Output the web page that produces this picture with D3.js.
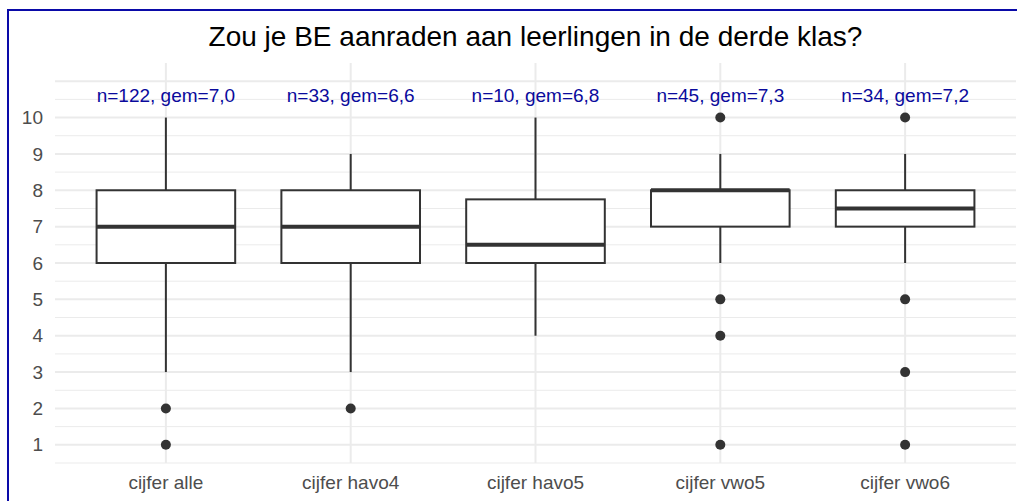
<!DOCTYPE html>
<html>
<head>
<meta charset="utf-8">
<script src="https://cdn.jsdelivr.net/npm/d3@7"></script>
<style>
  body { margin: 0; background: #fff; }
  svg { display: block; font-family: "Liberation Sans", Arial, sans-serif; }
</style>
</head>
<body>
<div id="chart"></div>
<script>
var categories = ["cijfer alle", "cijfer havo4", "cijfer havo5", "cijfer vwo5", "cijfer vwo6"];
var lowWhisker = [3, 3, 4, 6, 6];
var q1 = [6, 6, 6, 7, 7];
var median = [7, 7, 6.5, 8, 7.5];
var q3 = [8, 8, 7.75, 8, 8];
var highWhisker = [10, 9, 10, 9, 9];
var outliers = [[2, 1], [2], [], [10, 5, 4, 1], [10, 5, 3, 1]];
var counts = [122, 33, 10, 45, 34];
var means = ["7,0", "6,6", "6,8", "7,3", "7,2"];
var yTicks = [1, 2, 3, 4, 5, 6, 7, 8, 9, 10];

var width = 1017,
    height = 501,
    margin = { top: 63, right: 1, bottom: 38, left: 55 };

var svg = d3.select("#chart").append("svg")
    .attr("width", width)
    .attr("height", height);

var x = d3.scaleBand()
    .domain(categories)
    .range([margin.left, width - margin.right])
    .paddingOuter(0.1)
    .paddingInner(0);

var y = d3.scaleLinear()
    .domain([0.5, 11.5])
    .range([height - margin.bottom, margin.top]);

// grid
var grid = svg.append("g");
grid.selectAll("line.h")
    .data(d3.range(0.5, 11.01, 0.5))
    .enter().append("line")
    .attr("x1", margin.left).attr("x2", width - margin.right)
    .attr("y1", function(d) { return y(d); })
    .attr("y2", function(d) { return y(d); })
    .attr("stroke", "#ebebeb")
    .attr("stroke-width", function(d) { return d % 1 === 0 ? 2 : 1; });
grid.selectAll("line.v")
    .data(categories)
    .enter().append("line")
    .attr("x1", function(d) { return x(d) + x.bandwidth() / 2; })
    .attr("x2", function(d) { return x(d) + x.bandwidth() / 2; })
    .attr("y1", margin.top).attr("y2", height - margin.bottom)
    .attr("stroke", "#ebebeb")
    .attr("stroke-width", 2);

// axes
var yAxis = svg.append("g")
    .attr("transform", "translate(" + margin.left + ",0)")
    .call(d3.axisLeft(y).tickValues(yTicks).tickSize(0).tickPadding(12));
yAxis.select(".domain").remove();
yAxis.selectAll("text").attr("fill", "#4d4d4d").style("font-size", "19px");

var xAxis = svg.append("g")
    .attr("transform", "translate(0," + (height - margin.bottom) + ")")
    .call(d3.axisBottom(x).tickSize(0).tickPadding(13));
xAxis.select(".domain").remove();
xAxis.selectAll("text").attr("fill", "#4d4d4d").style("font-size", "19px");

// boxes
var bw = x.bandwidth() * 0.75;
var boxes = svg.selectAll("g.box")
    .data(categories)
    .enter().append("g")
    .attr("transform", function(d) { return "translate(" + (x(d) + x.bandwidth() / 2) + ",0)"; });

boxes.append("line")
    .attr("y1", function(d, i) { return y(highWhisker[i]); })
    .attr("y2", function(d, i) { return y(q3[i]); })
    .attr("stroke", "#333").attr("stroke-width", 2);
boxes.append("line")
    .attr("y1", function(d, i) { return y(q1[i]); })
    .attr("y2", function(d, i) { return y(lowWhisker[i]); })
    .attr("stroke", "#333").attr("stroke-width", 2);
boxes.append("rect")
    .attr("x", -bw / 2)
    .attr("width", bw)
    .attr("y", function(d, i) { return y(q3[i]); })
    .attr("height", function(d, i) { return y(q1[i]) - y(q3[i]); })
    .attr("fill", "#fff")
    .attr("stroke", "#333").attr("stroke-width", 2);
boxes.append("line")
    .attr("x1", -bw / 2).attr("x2", bw / 2)
    .attr("y1", function(d, i) { return y(median[i]); })
    .attr("y2", function(d, i) { return y(median[i]); })
    .attr("stroke", "#333").attr("stroke-width", 4);
boxes.selectAll("circle")
    .data(function(d, i) { return outliers[i]; })
    .enter().append("circle")
    .attr("cy", function(d) { return y(d); })
    .attr("r", 5)
    .attr("fill", "#333");

// annotations
svg.selectAll("text.ann")
    .data(categories)
    .enter().append("text")
    .attr("x", function(d) { return x(d) + x.bandwidth() / 2; })
    .attr("y", y(10.6))
    .attr("dy", "0.35em")
    .attr("text-anchor", "middle")
    .attr("fill", "#0a0a9c")
    .style("font-size", "19px")
    .text(function(d, i) { return "n=" + counts[i] + ", gem=" + means[i]; });

// title
svg.append("text")
    .attr("x", (margin.left + width - margin.right) / 2)
    .attr("y", 46)
    .attr("text-anchor", "middle")
    .attr("fill", "#000")
    .style("font-size", "28px")
    .text("Zou je BE aanraden aan leerlingen in de derde klas?");

// frame
svg.append("path")
    .attr("d", "M8," + height + "V10H" + width)
    .attr("fill", "none")
    .attr("stroke", "#0a0aa8")
    .attr("stroke-width", 2);
</script>
</body>
</html>
